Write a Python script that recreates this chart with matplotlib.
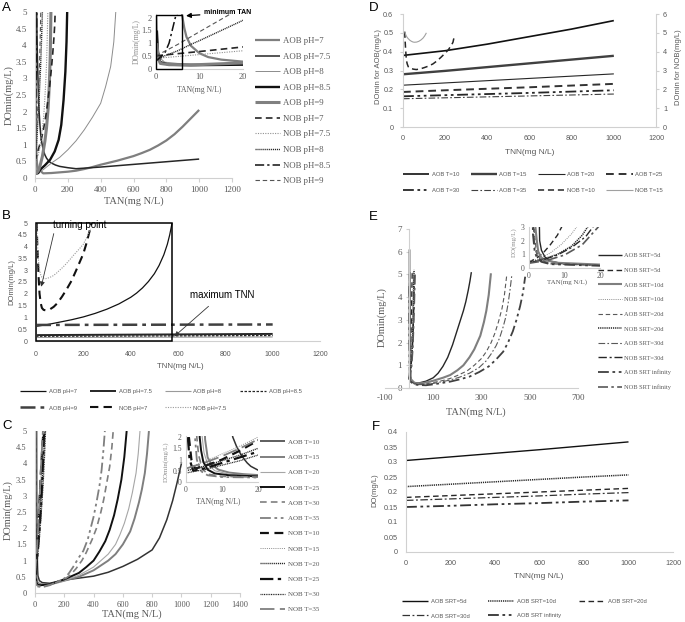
import matplotlib
matplotlib.use("Agg")
import matplotlib.pyplot as plt
from matplotlib.patches import Rectangle

W, H = 685, 622
SERIF = "Liberation Serif"
SANS = "Liberation Sans"
TXT = "#595959"
SPN = "#d0d0d0"

# ---------------- Panel A : DOmin vs TAN at different pH ----------------
A_aob7_x = [5.6, 6, 6.5, 7, 8, 10, 12, 15, 20, 50, 100, 150, 200, 250, 300, 350, 400, 450, 500,
            550, 600, 650, 700, 750, 800, 850, 900, 950, 1000]
A_aob7_y = [5, 2.1, 1.6, 1.25, 0.9, 0.6, 0.45, 0.35, 0.27, 0.14, 0.15, 0.17, 0.19, 0.22, 0.27,
            0.33, 0.4, 0.46, 0.52, 0.59, 0.66, 0.75, 0.85, 0.98, 1.13, 1.32, 1.55, 1.8, 2.05]
A_aob75_x = [10, 12, 14, 16, 18, 21, 25, 30, 35, 42, 50, 60, 70, 85, 100, 125, 150, 200, 250,
             400, 600, 800, 1000]
A_aob75_y = [5, 4.3, 3.8, 3.35, 3.0, 2.5, 2.0, 1.6, 1.3, 1.05, 0.85, 0.7, 0.6, 0.5, 0.45, 0.39,
             0.35, 0.31, 0.28, 0.33, 0.41, 0.49, 0.57]
A_aob8_x = [0.2, 0.4, 1, 2, 5, 10, 20, 50, 100, 150, 200, 250, 300, 350, 400, 430, 461, 480, 492]
A_aob8_y = [2.1, 0.8, 0.4, 0.25, 0.2, 0.18, 0.17, 0.25, 0.45, 0.62, 0.85, 1.12, 1.45, 1.83, 2.25,
            2.75, 3.36, 4.1, 5]
A_aob85_x = [0.2, 0.5, 1, 3, 8, 20, 31, 60, 92, 120, 144, 160, 174, 185, 192, 196]
A_aob85_y = [1.5, 0.5, 0.25, 0.15, 0.13, 0.15, 0.25, 0.38, 0.55, 0.8, 1.15, 1.6, 2.35, 3.2, 4.1, 5]
A_aob9_x = [0.2, 0.5, 1, 3, 8, 20, 30, 45, 60, 70, 80, 87, 93, 97]
A_aob9_y = [1.0, 0.4, 0.2, 0.15, 0.14, 0.22, 0.35, 0.65, 1.1, 1.5, 2.1, 2.8, 3.7, 5]
A_nob7_x = [0, 10, 20, 30, 40, 50, 60, 70, 80, 90, 100, 108, 115, 120, 123]
A_nob7_y = [0.5, 0.67, 0.85, 1.02, 1.2, 1.42, 1.7, 2.0, 2.4, 2.8, 3.3, 3.75, 4.2, 4.6, 5.0]
A_nob75_x = [0, 10, 20, 28, 35, 42, 50, 55, 60, 65, 70, 74, 78]
A_nob75_y = [0.4, 0.55, 0.7, 0.88, 1.1, 1.35, 1.7, 2.0, 2.4, 2.85, 3.4, 4.1, 5.0]
A_nob8_x = [0, 2, 5, 8, 10, 15, 20, 25, 30, 34, 38, 42, 45]
A_nob8_y = [0.3, 0.5, 0.7, 0.95, 1.1, 1.5, 1.9, 2.4, 2.9, 3.35, 3.9, 4.5, 5.0]
A_nob85_x = [0, 2, 3, 4.5, 7, 9, 11]
A_nob85_y = [0.3, 0.6, 1.0, 2.05, 3.0, 4.0, 5.0]
A_nob9_x = [0, 5, 10, 16.6, 20, 25, 28, 31, 33, 35]
A_nob9_y = [0.5, 0.95, 1.45, 2.1, 2.5, 3.0, 3.5, 4.1, 4.5, 5.0]
A_labels = ["AOB pH=7", "AOB pH=7.5", "AOB pH=8", "AOB pH=8.5", "AOB pH=9",
            "NOB pH=7", "NOB pH=7.5", "NOB pH=8", "NOB pH=8.5", "NOB pH=9"]
A_xticks = [0, 200, 400, 600, 800, 1000, 1200]
A_yticks = [0, 0.5, 1, 1.5, 2, 2.5, 3, 3.5, 4, 4.5, 5]
A_ylabels = ["0", "0.5", "1", "1.5", "2", "2.5", "3", "3.5", "4", "4.5", "5"]
IN_xticks = [0, 10, 20]
IA_yticks = [0, 0.5, 1, 1.5, 2]
IA_ylabels = ["0", "0.5", "1", "1.5", "2"]

# ---------------- Panel B : DOmin vs TNN at different pH ----------------
B_aob7_x = [0, 50, 100, 150, 200, 250, 300, 350, 400, 425, 450, 475, 500, 520, 540, 555, 565, 575]
B_aob7_y = [0.62, 0.7, 0.8, 0.9, 1.02, 1.17, 1.35, 1.57, 1.85, 2.03, 2.25, 2.52, 2.85, 3.2, 3.65,
            4.1, 4.5, 5.0]
B_aob75_x = [0, 1000]
B_aob75_y = [0.25, 0.3]
B_aob8_x = [0, 1000]
B_aob8_y = [0.15, 0.17]
B_aob85_x = [0, 1000]
B_aob85_y = [0.2, 0.23]
B_aob9_x = [0, 1000]
B_aob9_y = [0.68, 0.7]
B_nob7_x = [3, 5, 8, 11, 15, 20, 25, 32, 40, 50, 60, 75, 90, 110, 130, 150, 170, 185, 200, 212, 225, 235]
B_nob7_y = [5, 4.2, 3.5, 2.7, 2.0, 1.6, 1.4, 1.32, 1.3, 1.31, 1.35, 1.45, 1.6, 1.88, 2.2, 2.55, 3.0,
            3.35, 3.7, 4.1, 4.6, 5.0]
B_nob75_x = [3, 5, 8, 11, 15, 20, 25, 32, 40, 55, 70, 85, 100, 115, 130, 145, 160, 180, 200, 215, 230]
B_nob75_y = [5, 4.4, 3.8, 3.35, 3.0, 2.8, 2.7, 2.66, 2.64, 2.68, 2.75, 2.86, 3.0, 3.14, 3.3, 3.47,
             3.65, 3.87, 4.1, 4.4, 4.75]
B_labels = ["AOB pH=7", "AOB pH=7.5", "AOB pH=8", "AOB pH=8.5", "AOB pH=9", "NOB pH=7", "NOB pH=7.5"]

# ---------------- Panel C : DOmin vs TAN at different T ----------------
C_aob10_x = [11, 12, 13, 14, 15, 16, 17, 18, 20, 30, 50, 100, 200, 300, 400, 500, 600, 700, 800,
             850, 900, 940, 970, 1000]
C_aob10_y = [5, 2.8, 2.0, 1.6, 1.3, 1.05, 0.85, 0.7, 0.53, 0.38, 0.32, 0.3, 0.4, 0.46, 0.52, 0.64,
             0.82, 1.04, 1.33, 1.7, 2.26, 2.85, 3.4, 4.0]
C_aob15_x = [4.8, 5.3, 6, 7, 9, 12, 16, 20, 40, 100, 200, 300, 400, 500, 550, 600, 650, 680, 710,
             730, 750, 765, 778]
C_aob15_y = [5, 1.9, 1.1, 0.8, 0.55, 0.42, 0.35, 0.31, 0.27, 0.26, 0.38, 0.5, 0.7, 1.0, 1.2, 1.5,
             1.9, 2.3, 2.8, 3.2, 3.7, 4.3, 5.0]
C_aob20_x = [4.2, 4.5, 5, 6, 8, 12, 20, 40, 100, 200, 300, 400, 450, 500, 550, 580, 610, 640, 665,
             690, 705, 717]
C_aob20_y = [5, 2.0, 1.3, 0.8, 0.5, 0.35, 0.28, 0.26, 0.27, 0.38, 0.55, 0.8, 1.0, 1.2, 1.5, 1.8,
             2.15, 2.6, 3.1, 3.7, 4.3, 5.0]
C_aob25_x = [3.5, 3.8, 4.2, 4.8, 6, 8, 12, 20, 40, 100, 200, 300, 350, 400, 440, 480, 510, 540,
             565, 590, 610, 626]
C_aob25_y = [5, 2.0, 1.4, 0.9, 0.55, 0.38, 0.3, 0.25, 0.24, 0.27, 0.42, 0.62, 0.8, 1.0, 1.28, 1.6,
             1.95, 2.4, 2.9, 3.5, 4.2, 5.0]
C_aob30_x = [2.8, 3, 3.5, 4.5, 6, 10, 20, 50, 100, 200, 240, 280, 320, 350, 390, 420, 450, 470,
             490, 510, 525, 534]
C_aob30_y = [5, 2.0, 1.2, 0.6, 0.35, 0.25, 0.22, 0.2, 0.25, 0.42, 0.55, 0.75, 1.0, 1.25, 1.65, 2.0,
             2.5, 2.9, 3.4, 3.9, 4.5, 5.0]
C_aob35_x = [2.3, 2.5, 3, 4, 6, 10, 20, 50, 100, 200, 230, 260, 300, 330, 360, 380, 400, 420, 440,
             455, 467, 477]
C_aob35_y = [5, 2.0, 1.0, 0.5, 0.3, 0.22, 0.2, 0.18, 0.24, 0.45, 0.6, 0.8, 1.1, 1.3, 1.65, 2.0,
             2.35, 2.8, 3.3, 3.8, 4.4, 5.0]
C_nob10_x = [0.8, 1.5, 2.5, 5, 10, 15, 20, 30, 40, 50, 58]
C_nob10_y = [2.0, 1.0, 0.6, 0.7, 1.0, 1.4, 1.85, 2.8, 3.7, 4.5, 5.0]
C_nob15_x = [0, 5, 10, 15, 20, 30, 40, 48, 55]
C_nob15_y = [0.6, 0.9, 1.25, 1.6, 2.0, 2.8, 3.7, 4.4, 5.0]
C_nob20_x = [0, 5, 10, 15, 20, 30, 40, 50, 60, 68]
C_nob20_y = [0.5, 0.7, 0.95, 1.2, 1.5, 2.1, 2.8, 3.6, 4.4, 5.0]
C_nob25_x = [0.5, 1, 2, 5, 10, 15, 20, 30, 40, 50, 62]
C_nob25_y = [2.0, 1.0, 0.5, 0.6, 0.85, 1.1, 1.35, 1.9, 2.6, 3.5, 5.0]
C_nob30_x = [0, 5, 10, 15, 20, 30, 40, 55, 65, 72]
C_nob30_y = [0.4, 0.55, 0.75, 0.95, 1.2, 1.7, 2.3, 3.3, 4.2, 5.0]
C_nob35_x = [0, 5, 10, 15, 20, 30, 40, 48, 54]
C_nob35_y = [0.6, 0.85, 1.15, 1.5, 1.9, 2.8, 3.8, 4.5, 5.0]
C_labels = ["AOB T=10", "AOB T=15", "AOB T=20", "AOB T=25", "AOB T=30", "AOB T=35",
            "NOB T=10", "NOB T=15", "NOB T=20", "NOB T=25", "NOB T=30", "NOB T=35"]
C_xticks = [0, 200, 400, 600, 800, 1000, 1200, 1400]

# ---------------- Panel D : DOmin vs TNN at different T ----------------
TNN = [0, 200, 400, 600, 800, 1000]
D_aob10 = [0.38, 0.405, 0.44, 0.48, 0.52, 0.565]
D_aob15 = [0.28, 0.298, 0.318, 0.338, 0.358, 0.378]
D_aob20 = [0.222, 0.234, 0.246, 0.258, 0.27, 0.282]
D_aob25 = [0.186, 0.195, 0.203, 0.211, 0.22, 0.229]
D_aob30 = [0.163, 0.169, 0.175, 0.181, 0.188, 0.195]
D_aob35 = [0.15, 0.155, 0.16, 0.165, 0.17, 0.175]
D_nob10_x = [8, 10, 12, 16, 20, 25, 32, 40, 50, 63, 80, 100, 120, 142, 160, 180, 200, 215, 230, 237, 245]
D_nob10_y = [5.06, 4.6, 4.2, 3.55, 3.35, 3.2, 3.13, 3.1, 3.07, 3.05, 3.08, 3.15, 3.23, 3.35, 3.5,
             3.7, 3.92, 4.1, 4.35, 4.5, 4.9]
D_nob15_x = [8, 11, 15, 19, 24, 32, 40, 48, 55, 65, 75, 85, 95, 103, 111]
D_nob15_y = [5.06, 4.95, 4.85, 4.77, 4.7, 4.61, 4.55, 4.51, 4.5, 4.51, 4.55, 4.62, 4.72, 4.84, 5.0]
D_labels = ["AOB T=10", "AOB T=15", "AOB T=20", "AOB T=25", "AOB T=30", "AOB T=35", "NOB T=10", "NOB T=15"]
D_yticks = [0, 0.1, 0.2, 0.3, 0.4, 0.5, 0.6]
D_ylabels = ["0", "0.1", "0.2", "0.3", "0.4", "0.5", "0.6"]
D_y2ticks = [0, 1, 2, 3, 4, 5, 6]

# ---------------- Panel E : DOmin vs TAN at different SRT ----------------
E_aob5_x = [2.8, 3, 3.5, 4.5, 6, 10, 20, 40, 70, 100, 120, 140, 160, 180, 195, 210, 225, 235, 245,
            252, 258]
E_aob5_y = [5.1, 2.0, 1.3, 0.8, 0.5, 0.3, 0.22, 0.22, 0.3, 0.45, 0.65, 0.95, 1.35, 1.9, 2.4, 2.9,
            3.4, 3.8, 4.3, 4.7, 5.1]
E_aob10_x = [1.6, 1.8, 2.2, 2.6, 3.5, 5, 8, 20, 30, 60, 100, 140, 170, 200, 225, 250, 270, 295,
             310, 320, 330, 339]
E_aob10_y = [6.1, 3.0, 2.0, 1.2, 0.75, 0.55, 0.38, 0.25, 0.2, 0.22, 0.32, 0.45, 0.57, 0.78, 1.0,
             1.35, 1.7, 2.3, 2.9, 3.4, 4.1, 5.05]
E_aob20_x = [1.4, 1.5, 2, 2.5, 3.5, 6, 20, 40, 70, 100, 140, 170, 200, 240, 270, 300, 320, 340,
             355, 370, 385, 395, 405]
E_aob20_y = [5.0, 2.5, 1.4, 0.9, 0.55, 0.35, 0.2, 0.17, 0.18, 0.24, 0.33, 0.42, 0.55, 0.75, 1.0,
             1.3, 1.6, 2.0, 2.4, 2.9, 3.5, 4.1, 5.0]
E_aob30_x = [1.2, 1.3, 1.8, 2.5, 3.5, 6, 20, 40, 70, 100, 170, 210, 250, 290, 320, 340, 360, 375,
             390, 400, 410, 418, 426]
E_aob30_y = [5.0, 2.5, 1.3, 0.8, 0.5, 0.3, 0.18, 0.15, 0.15, 0.2, 0.35, 0.48, 0.65, 0.9, 1.2, 1.5,
             1.85, 2.2, 2.7, 3.1, 3.7, 4.3, 5.0]
E_aobinf_x = [1.0, 1.1, 1.6, 2.3, 3.5, 6, 20, 40, 70, 100, 170, 210, 250, 290, 330, 360, 390, 410,
              430, 445, 460, 472, 481]
E_aobinf_y = [4.5, 2.5, 1.2, 0.7, 0.45, 0.28, 0.16, 0.13, 0.12, 0.16, 0.28, 0.38, 0.5, 0.7, 0.95,
              1.25, 1.6, 2.0, 2.5, 3.0, 3.6, 4.2, 4.9]
E_nob5_x = [0, 2, 4, 6, 8, 9.2, 11, 13]
E_nob5_y = [0.44, 0.7, 1.1, 1.7, 2.4, 3.0, 4.0, 5.2]
E_nob10_x = [0, 3, 6, 9, 12, 13.4, 15, 17]
E_nob10_y = [0.45, 0.7, 1.1, 1.7, 2.5, 3.0, 4.0, 5.1]
E_nob20_x = [0, 4, 8, 12, 15, 16.5, 18.5, 20.5]
E_nob20_y = [0.4, 0.65, 1.0, 1.6, 2.4, 3.0, 4.0, 5.2]
E_nob30_x = [0, 4, 8, 12, 16, 18, 20, 22]
E_nob30_y = [0.38, 0.6, 0.95, 1.5, 2.3, 3.0, 4.0, 5.0]
E_nobinf_x = [0, 5, 10, 15, 19.5, 22, 25]
E_nobinf_y = [0.35, 0.55, 0.95, 1.7, 3.0, 4.0, 5.1]
E_labels = ["AOB SRT=5d", "NOB SRT=5d", "AOB SRT=10d", "NOB SRT=10d", "AOB SRT=20d",
            "NOB SRT=20d", "AOB SRT=30d", "NOB SRT=30d", "AOB SRT infinity", "NOB SRT infinity"]
E_xticks = [-100, 100, 300, 500, 700]
E_yticks = [0, 1, 2, 3, 4, 5, 6, 7]
IE_yticks = [0, 1, 2, 3]

# ---------------- Panel F : DO vs TNN at different SRT ----------------
F_5d = [0.305, 0.317, 0.329, 0.341, 0.354, 0.367]
F_10d = [0.218, 0.226, 0.234, 0.242, 0.25, 0.257]
F_20d = [0.182, 0.188, 0.194, 0.2, 0.206, 0.212]
F_30d = [0.172, 0.177, 0.182, 0.187, 0.193, 0.198]
F_inf = [0.150, 0.154, 0.159, 0.163, 0.168, 0.172]
F_labels = ["AOB SRT=5d", "AOB SRT=10d", "AOB SRT=20d", "AOB SRT=30d", "AOB SRT infinity"]
F_yticks = [0, 0.05, 0.1, 0.15, 0.2, 0.25, 0.3, 0.35, 0.4]
F_ylabels = ["0", "0.05", "0.1", "0.15", "0.2", "0.25", "0.3", "0.35", "0.4"]

# ---------------- styles ----------------
LS = {
    "solid": "-",
    "dash": (0, (4, 2.5)),
    "shortdash": (0, (2, 1.2)),
    "dot": (0, (1, 1.2)),
    "densedot": (0, (0.8, 0.6)),
    "dashdot": (0, (6, 2, 1.5, 2)),
    "dashdotdot": (0, (6, 2, 1.5, 2, 1.5, 2)),
    "longdash": (0, (8, 3)),
}

fig = plt.figure(figsize=(W / 100, H / 100), dpi=100)


def box(x0, y0, x1, y1):
    ax = fig.add_axes([x0 / W, 1 - y1 / H, (x1 - x0) / W, (y1 - y0) / H])
    ax.set_facecolor("none")
    return ax


def ftext(x, y, s, **kw):
    fig.text(x / W, 1 - y / H, s, **kw)


def style(ax, xt, xl, yt, yl, fam, fs, xpad=4, ypad=4, xlen=0, ylen=0):
    for s in ["top", "right"]:
        ax.spines[s].set_visible(False)
    for s in ["left", "bottom"]:
        ax.spines[s].set_color(SPN)
        ax.spines[s].set_linewidth(0.8)
    ax.set_xticks(xt)
    ax.set_xticklabels(xl, fontfamily=fam, fontsize=fs, color=TXT)
    ax.set_yticks(yt)
    ax.set_yticklabels(yl, fontfamily=fam, fontsize=fs, color=TXT)
    ax.tick_params(axis="x", length=xlen, pad=xpad, color=SPN, width=0.8)
    ax.tick_params(axis="y", length=ylen, pad=ypad, color=SPN, width=0.8)


def strs(v):
    return [str(t) for t in v]


def draw(ax, series):
    hs = []
    for x, y, c, lw, ls in series:
        h, = ax.plot(x, y, color=c, lw=lw, linestyle=LS[ls], solid_capstyle="butt",
                     solid_joinstyle="round")
        hs.append(h)
    return hs


def vleg(handles, labels, x, y, fs, hl, lsp, pad, fam, ncol=1, colsp=2.0):
    fig.legend(handles, labels, loc="upper left", bbox_to_anchor=(x / W, 1 - y / H),
               frameon=False, prop={"family": fam, "size": fs}, handlelength=hl,
               labelspacing=lsp, handletextpad=pad, borderpad=0, borderaxespad=0,
               labelcolor=TXT, ncol=ncol, columnspacing=colsp)


# ================= Panel A =================
A_series = [
    (A_aob7_x, A_aob7_y, "#7f7f7f", 1.6, "solid"),
    (A_aob75_x, A_aob75_y, "#262626", 1.1, "solid"),
    (A_aob8_x, A_aob8_y, "#8c8c8c", 0.7, "solid"),
    (A_aob85_x, A_aob85_y, "#111111", 1.7, "solid"),
    (A_aob9_x, A_aob9_y, "#808080", 2.2, "solid"),
    (A_nob7_x, A_nob7_y, "#262626", 1.2, "dash"),
    (A_nob75_x, A_nob75_y, "#909090", 0.8, "dot"),
    (A_nob8_x, A_nob8_y, "#262626", 1.0, "densedot"),
    (A_nob85_x, A_nob85_y, "#111111", 1.1, "dashdot"),
    (A_nob9_x, A_nob9_y, "#555555", 0.8, "dash"),
]
axA = box(35, 12, 232, 178)
hA = draw(axA, A_series)
axA.set_xlim(0, 1200)
axA.set_ylim(0, 5)
style(axA, A_xticks, strs(A_xticks), A_yticks, A_ylabels, SERIF, 6.5, xpad=3, ypad=6, xlen=3)
ftext(9, 95, "DOmin(mg/L)", rotation=90, ha="center", va="center", family=SERIF, fontsize=7.5, color=TXT)
ftext(134, 201, "TAN(mg N/L)", ha="center", va="center", family=SERIF, fontsize=7.5, color=TXT)
vleg(hA, A_labels, 255, 37, 6.3, 2.9, 0.85, 0.35, SERIF)

axIA = box(156, 14, 243, 68.5)
draw(axIA, A_series)
axIA.set_xlim(0, 20)
axIA.set_ylim(0, 2.15)
style(axIA, IN_xticks, strs(IN_xticks), IA_yticks, IA_ylabels, SERIF, 6, xpad=3, ypad=3)
axIA.add_patch(Rectangle((0, 0), 6, 2.1, fill=False, ec="black", lw=1.0, clip_on=False, zorder=5))
ftext(137, 42, "DOmin(mg/L)", rotation=90, ha="center", va="center", family=SERIF, fontsize=5.5, color="#8c8c8c")
ftext(199, 90, "TAN(mg N/L)", ha="center", va="center", family=SERIF, fontsize=5.5, color=TXT)
axIA.annotate("minimum TAN", xy=(6.9, 2.08), xycoords="data", xytext=(204, H - 13),
              textcoords="figure pixels", ha="left", va="center", family=SANS, fontsize=5,
              fontweight="bold", annotation_clip=False,
              arrowprops=dict(arrowstyle="-|>", color="black", lw=0.9, mutation_scale=7,
                              shrinkA=1, shrinkB=0))
ftext(2, 8, "A", ha="left", va="center", family=SANS, fontsize=9.5)

# ================= Panel B =================
B_series = [
    (B_aob7_x, B_aob7_y, "#111111", 0.9, "solid"),
    (B_aob75_x, B_aob75_y, "#262626", 1.4, "solid"),
    (B_aob8_x, B_aob8_y, "#9a9a9a", 0.8, "solid"),
    (B_aob85_x, B_aob85_y, "#262626", 0.9, "shortdash"),
    (B_aob9_x, B_aob9_y, "#404040", 1.8, "dashdot"),
    (B_nob7_x, B_nob7_y, "#111111", 1.5, "dash"),
    (B_nob75_x, B_nob75_y, "#9a9a9a", 0.8, "dot"),
]
axB = box(36, 223, 320, 341)
hB = draw(axB, B_series)
axB.set_xlim(0, 1200)
axB.set_ylim(0, 5)
style(axB, A_xticks, strs(A_xticks), A_yticks, A_ylabels, SANS, 5, xpad=7, ypad=6)
axB.add_patch(Rectangle((0, 0), 575, 5, fill=False, ec="black", lw=1.1, clip_on=False, zorder=5))
axB.annotate("", xy=(22, 2.3), xytext=(75, 4.55), arrowprops=dict(arrowstyle="-|>", color="#333333",
             lw=0.6, mutation_scale=7, shrinkA=0, shrinkB=0))
axB.annotate("", xy=(585, 0.2), xytext=(729, 1.47), arrowprops=dict(arrowstyle="-|>", color="#333333",
             lw=0.6, mutation_scale=7, shrinkA=0, shrinkB=0))
ftext(53, 225, "turning point", ha="left", va="center", family=SANS, fontsize=7, color="black")
ftext(190, 295, "maximum TNN", ha="left", va="center", family=SANS, fontsize=7, color="black")
ftext(12, 282, "DOmin(mg/L)", rotation=90, ha="center", va="center", family=SANS, fontsize=5.5, color=TXT)
ftext(180, 366, "TNN(mg N/L)", ha="center", va="center", family=SANS, fontsize=5.7, color=TXT)
orderB = [0, 4, 1, 5, 2, 6, 3]
vleg([hB[i] for i in orderB], [B_labels[i] for i in orderB], 20, 389, 4.2, 4.5, 1.95, 0.4, SANS,
     ncol=4, colsp=2.3)
ftext(2, 216, "B", ha="left", va="center", family=SANS, fontsize=9.5)

# ================= Panel C =================
C_series = [
    (C_aob10_x, C_aob10_y, "#333333", 1.1, "solid"),
    (C_aob15_x, C_aob15_y, "#7f7f7f", 1.4, "solid"),
    (C_aob20_x, C_aob20_y, "#a6a6a6", 0.8, "solid"),
    (C_aob25_x, C_aob25_y, "#111111", 1.4, "solid"),
    (C_aob30_x, C_aob30_y, "#7f7f7f", 1.2, "dash"),
    (C_aob35_x, C_aob35_y, "#7f7f7f", 1.3, "dashdotdot"),
    (C_nob10_x, C_nob10_y, "#111111", 1.6, "dash"),
    (C_nob15_x, C_nob15_y, "#8c8c8c", 0.7, "dot"),
    (C_nob20_x, C_nob20_y, "#262626", 1.0, "densedot"),
    (C_nob25_x, C_nob25_y, "#111111", 1.6, "dashdot"),
    (C_nob30_x, C_nob30_y, "#262626", 0.9, "densedot"),
    (C_nob35_x, C_nob35_y, "#7f7f7f", 1.3, "longdash"),
]
axC = box(35, 431, 240, 593)
hC = draw(axC, C_series)
axC.set_xlim(0, 1400)
axC.set_ylim(0, 5)
style(axC, C_xticks, strs(C_xticks), A_yticks, A_ylabels, SERIF, 6, xpad=3, ypad=6, xlen=3)
ftext(8, 510, "DOmin(mg/L)", rotation=90, ha="center", va="center", family=SERIF, fontsize=7.5, color=TXT)
ftext(132, 614, "TAN(mg N/L)", ha="center", va="center", family=SERIF, fontsize=7.5, color=TXT)
vleg(hC, C_labels, 260, 439, 5.0, 3.6, 1.35, 0.45, SERIF)

axIC = box(186, 436, 258, 482)
draw(axIC, C_series)
axIC.set_xlim(0, 20)
axIC.set_ylim(0, 2.05)
style(axIC, IN_xticks, strs(IN_xticks), IA_yticks, IA_ylabels, SERIF, 5.5, xpad=3, ypad=3)
ftext(166, 462, "DOmin(mg/L)", rotation=90, ha="center", va="center", family=SERIF, fontsize=5, color="#8c8c8c")
ftext(218, 502, "TAN(mg N/L)", ha="center", va="center", family=SERIF, fontsize=5.5, color=TXT)
ftext(2, 426, "C", ha="left", va="center", family=SANS, fontsize=9.5)

# ================= Panel D =================
D_series = [
    (TNN, D_aob10, "#111111", 1.2, "solid"),
    (TNN, D_aob15, "#404040", 1.7, "solid"),
    (TNN, D_aob20, "#262626", 0.8, "solid"),
    (TNN, D_aob25, "#333333", 1.4, "dash"),
    (TNN, D_aob30, "#262626", 1.3, "dashdotdot"),
    (TNN, D_aob35, "#404040", 0.8, "dashdot"),
]
axD = box(403, 14, 656, 127)
hD = draw(axD, D_series)
axD.set_xlim(0, 1200)
axD.set_ylim(0, 0.6)
style(axD, A_xticks, strs(A_xticks), D_yticks, D_ylabels, SANS, 5.2, xpad=6, ypad=5, ylen=2)
axD2 = axD.twinx()
axD2.set_facecolor("none")
hD2 = draw(axD2, [(D_nob10_x, D_nob10_y, "#262626", 1.1, "dash"),
                  (D_nob15_x, D_nob15_y, "#a0a0a0", 0.8, "solid")])
axD2.set_ylim(0, 6)
for s in ["top", "left", "bottom"]:
    axD2.spines[s].set_visible(False)
axD2.spines["right"].set_color(SPN)
axD2.spines["right"].set_linewidth(0.8)
axD2.set_yticks(D_y2ticks)
axD2.set_yticklabels(strs(D_y2ticks), fontfamily=SANS, fontsize=5.2, color=TXT)
axD2.tick_params(axis="y", length=2, pad=3, color=SPN)
ftext(378, 67, "DOmin for AOB(mg/L)", rotation=90, ha="center", va="center", family=SANS, fontsize=5.5, color=TXT)
ftext(678, 67, "DOmin for NOB(mg/L)", rotation=90, ha="center", va="center", family=SANS, fontsize=5.5, color=TXT)
ftext(530, 153, "TNN(mg N/L)", ha="center", va="center", family=SANS, fontsize=6, color=TXT)
hDall = hD + hD2
orderD = [0, 4, 1, 5, 2, 6, 3, 7]
vleg([hDall[i] for i in orderD], [D_labels[i] for i in orderD], 403, 172, 4.2, 4.5, 1.8, 0.4, SANS,
     ncol=4, colsp=2.0)
ftext(369, 8, "D", ha="left", va="center", family=SANS, fontsize=9.5)

# ================= Panel E =================
E_series = [
    (E_aob5_x, E_aob5_y, "#262626", 1.0, "solid"),
    (E_nob5_x, E_nob5_y, "#262626", 1.0, "dash"),
    (E_aob10_x, E_aob10_y, "#7f7f7f", 1.5, "solid"),
    (E_nob10_x, E_nob10_y, "#8c8c8c", 0.7, "dot"),
    (E_aob20_x, E_aob20_y, "#595959", 0.8, "dash"),
    (E_nob20_x, E_nob20_y, "#262626", 1.1, "densedot"),
    (E_aob30_x, E_aob30_y, "#595959", 0.8, "dashdot"),
    (E_nob30_x, E_nob30_y, "#262626", 1.0, "dashdot"),
    (E_aobinf_x, E_aobinf_y, "#404040", 1.3, "dashdotdot"),
    (E_nobinf_x, E_nobinf_y, "#595959", 1.2, "dashdot"),
]
axE = box(385, 229, 578, 388)
hE = draw(axE, E_series)
axE.set_xlim(-100, 700)
axE.set_ylim(0, 7)
axE.spines["left"].set_position(("data", 0))
style(axE, E_xticks, strs(E_xticks), E_yticks, strs(E_yticks), SERIF, 6.5, xpad=4, ypad=3, ylen=2)
ftext(382, 317, "DOmin(mg/L)", rotation=90, ha="center", va="center", family=SERIF, fontsize=7.5, color=TXT)
ftext(476, 412, "TAN(mg N/L)", ha="center", va="center", family=SERIF, fontsize=7.5, color=TXT)
vleg(hE, E_labels, 598, 253, 4.6, 3.8, 1.43, 0.3, SERIF)

axIE = box(529, 227, 600, 268)
draw(axIE, E_series)
axIE.set_xlim(0, 20)
axIE.set_ylim(0, 3)
style(axIE, IN_xticks, strs(IN_xticks), IE_yticks, strs(IE_yticks), SERIF, 5.5, xpad=3, ypad=3)
ftext(514, 242, "DO(mg/L)", rotation=90, ha="center", va="center", family=SERIF, fontsize=5, color="#8c8c8c")
ftext(567, 282, "TAN(mg N/L)", ha="center", va="center", family=SERIF, fontsize=5, color=TXT)
ftext(369, 217, "E", ha="left", va="center", family=SANS, fontsize=9.5)

# ================= Panel F =================
F_series = [
    (TNN, F_5d, "#111111", 1.0, "solid"),
    (TNN, F_10d, "#262626", 1.1, "densedot"),
    (TNN, F_20d, "#262626", 1.0, "dash"),
    (TNN, F_30d, "#333333", 0.9, "dashdot"),
    (TNN, F_inf, "#333333", 1.3, "dashdotdot"),
]
axF = box(406, 432, 673, 552)
hF = draw(axF, F_series)
axF.set_xlim(0, 1200)
axF.set_ylim(0, 0.4)
style(axF, A_xticks, strs(A_xticks), F_yticks, F_ylabels, SANS, 5.2, xpad=6, ypad=6)
ftext(375, 490, "DO(mg/L)", rotation=90, ha="center", va="center", family=SANS, fontsize=5.5, color=TXT)
ftext(539, 577, "TNN(mg N/L)", ha="center", va="center", family=SANS, fontsize=6, color=TXT)
orderF = [0, 3, 1, 4, 2]
vleg([hF[i] for i in orderF], [F_labels[i] for i in orderF], 402, 599, 4.2, 4.5, 1.6, 0.4, SANS,
     ncol=3, colsp=3.2)
ftext(372, 427, "F", ha="left", va="center", family=SANS, fontsize=9.5)

fig.savefig("out.png", dpi=100)
